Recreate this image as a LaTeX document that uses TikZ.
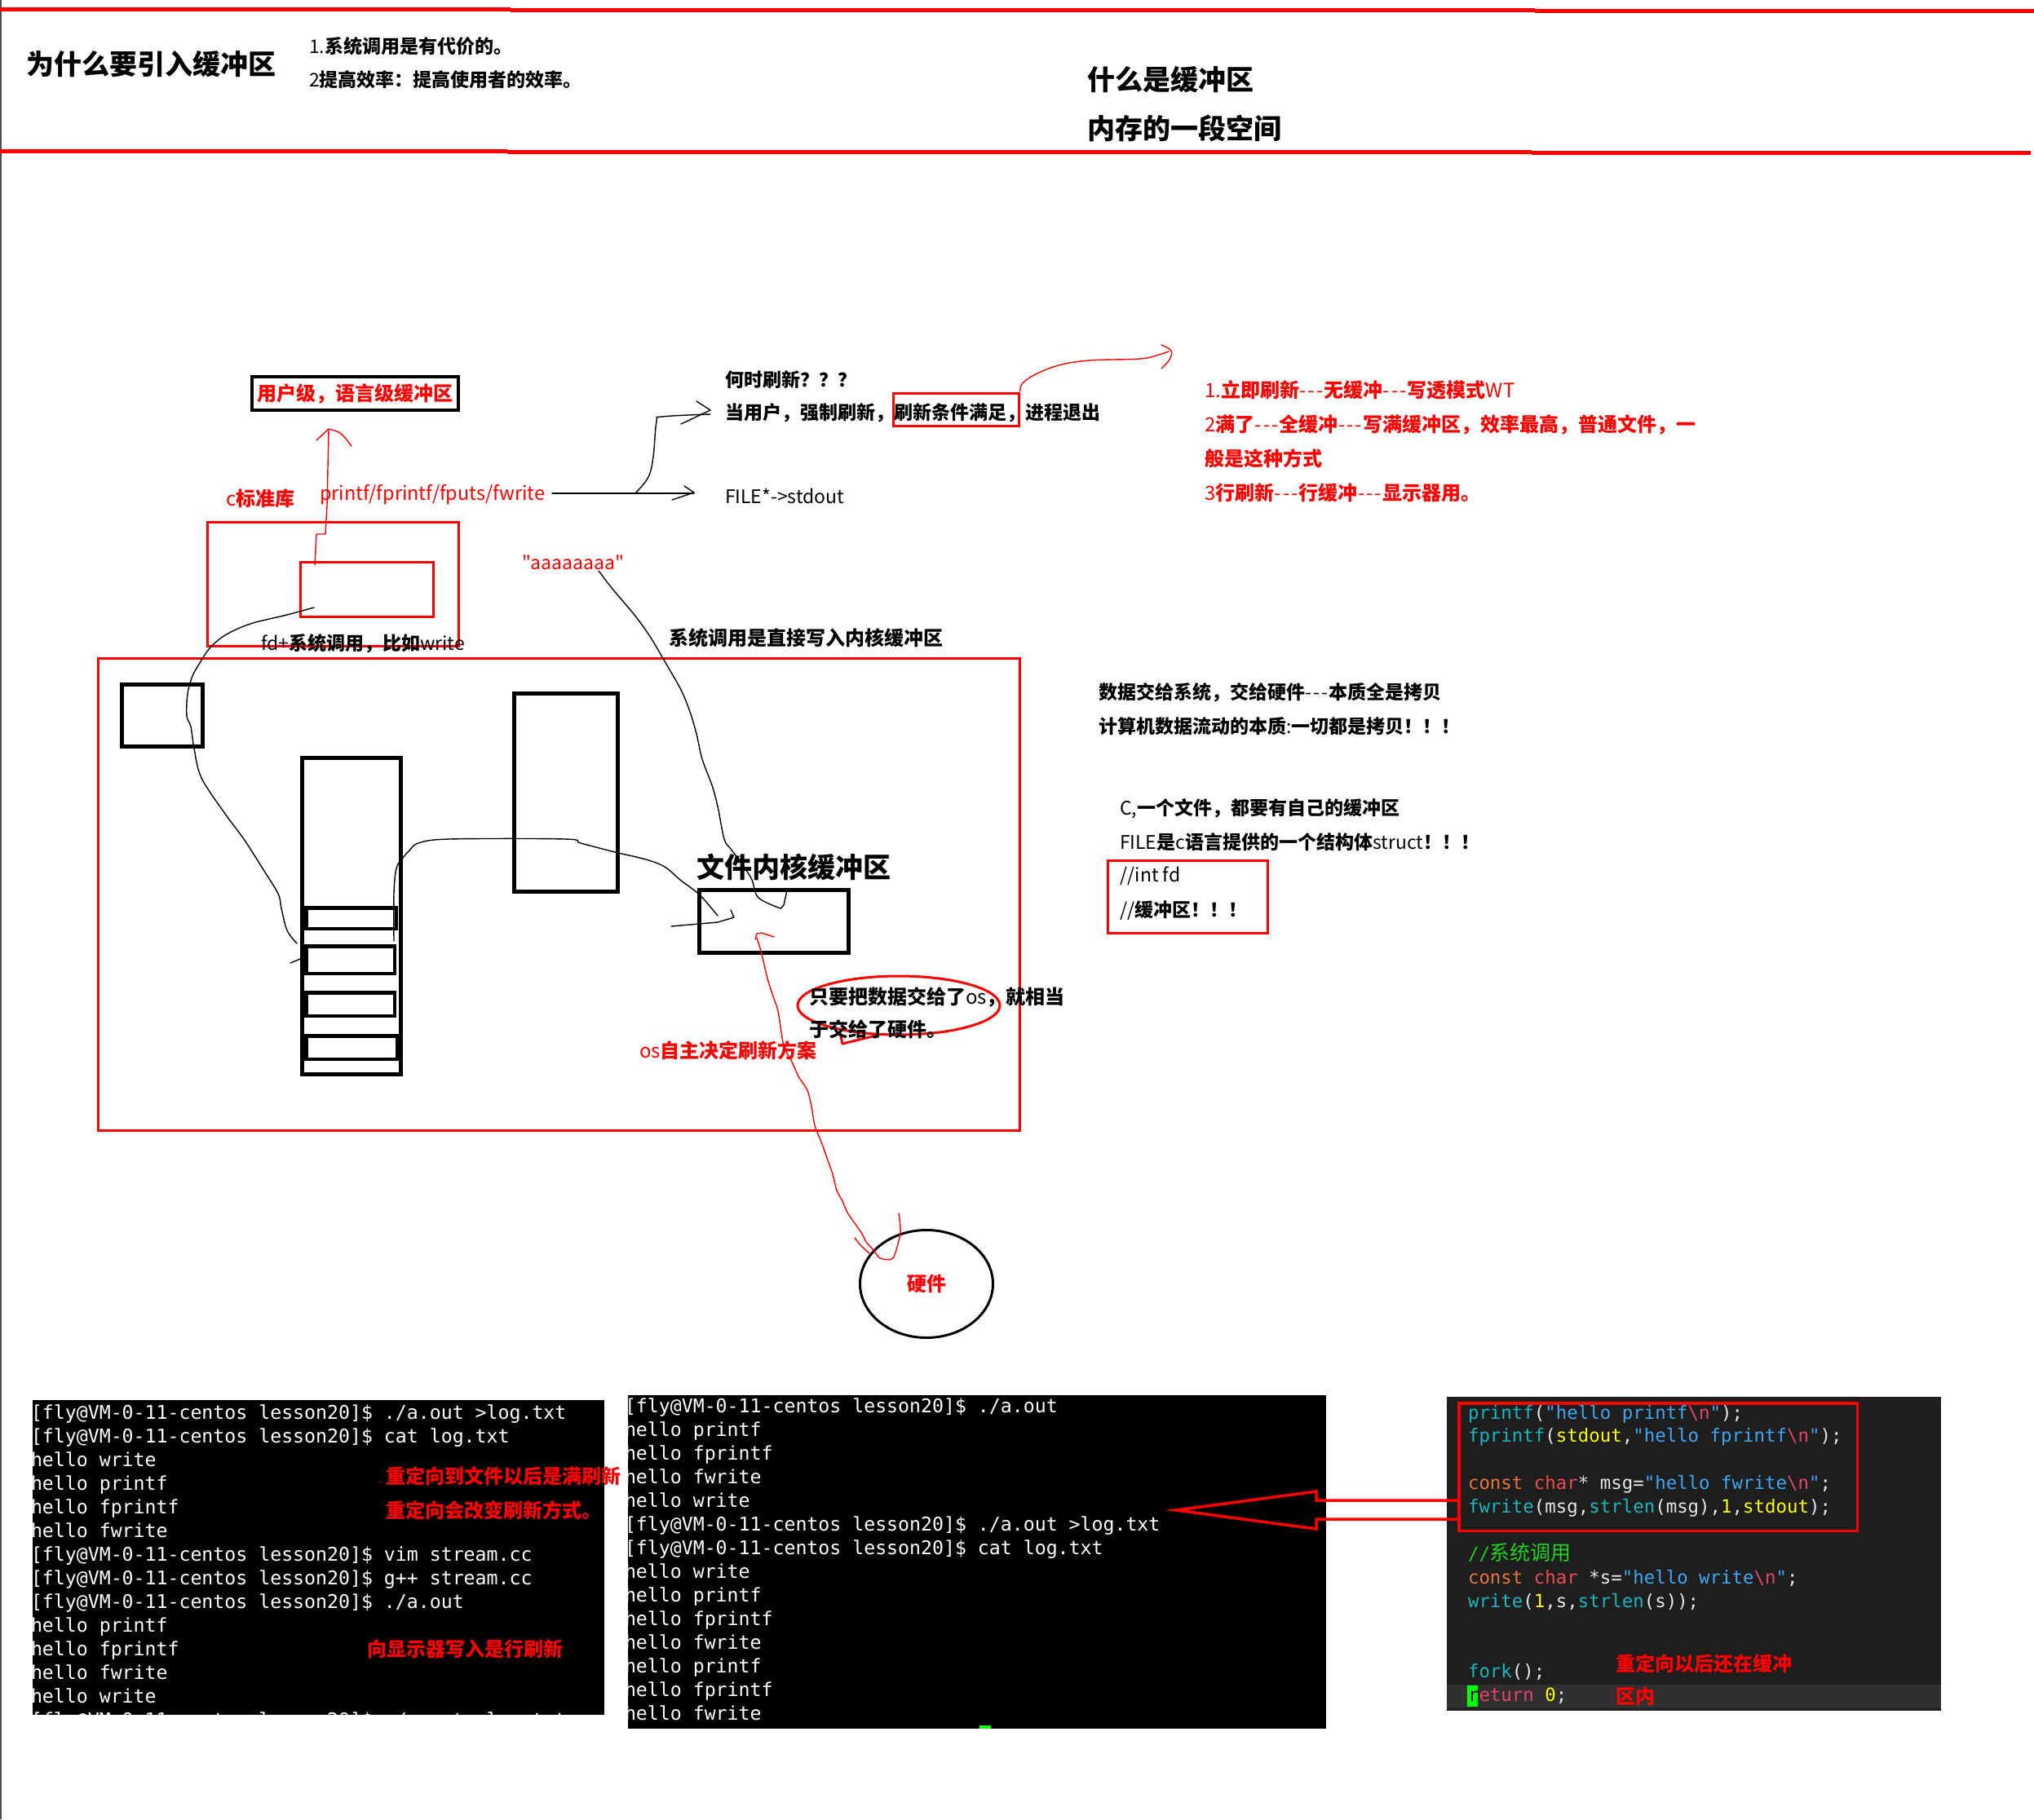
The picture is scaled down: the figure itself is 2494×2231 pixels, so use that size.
\documentclass[tikz,border=0pt]{standalone}
\usepackage{fontspec}
\usetikzlibrary{shapes.geometric}
\newfontfamily\cjk{Noto Sans CJK SC}
\newfontfamily\monof{DejaVu Sans Mono}
\newcommand\fsz[1]{\fontsize{#1}{#1}\selectfont}
\newcommand\rgl[1]{{\mdseries #1}}
\newcommand\dsh{{\mdseries\kern0.5pt-\kern2pt-\kern2pt-\kern1pt}}
\definecolor{rd}{HTML}{FF0000}
\definecolor{codebg}{HTML}{1E1E1E}
\definecolor{codeband}{HTML}{303030}
\definecolor{cfn}{HTML}{19B6BE}
\definecolor{cstr}{HTML}{3FA6F2}
\definecolor{cesc}{HTML}{E2466A}
\definecolor{ckw}{HTML}{E5763F}
\definecolor{cty}{HTML}{F04B4B}
\definecolor{cyl}{HTML}{FFFF00}
\definecolor{cwh}{HTML}{E6E6E6}
\definecolor{ccm}{HTML}{1ED41E}
\definecolor{cret}{HTML}{E8446C}
\definecolor{cur}{HTML}{00FF00}
\newcommand\kfn[1]{\textcolor{cfn}{#1}}
\newcommand\kstr[1]{\textcolor{cstr}{#1}}
\newcommand\kesc[1]{\textcolor{cesc}{#1}}
\newcommand\kkw[1]{\textcolor{ckw}{#1}}
\newcommand\kty[1]{\textcolor{cty}{#1}}
\newcommand\kyl[1]{\textcolor{cyl}{#1}}
\newcommand\kcm[1]{\textcolor{ccm}{#1}}
\newcommand\kret[1]{\textcolor{cret}{#1}}
\tikzset{
  txt/.style={anchor=base west, inner sep=0pt, outer sep=0pt},
  hb/.style={txt, font=\cjk\fsz{34}\bfseries},
  nb/.style={txt, font=\cjk\fsz{23}\bfseries},
  nb24/.style={txt, font=\cjk\fsz{24}\bfseries},
  nbr/.style={txt, font=\cjk\fsz{24}\bfseries, text=rd},
  nr/.style={txt, font=\cjk\fsz{23}},
  tl/.style={txt, font=\monof\fsz{23.2}, text=white},
  cl/.style={txt, font=\monof\fsz{22.4}, text=cwh},
  hand/.style={line width=1.4pt, line cap=round, line join=round},
  blkbox/.style={draw=black, line width=5pt, inner sep=0pt, outer sep=0pt},
  redbox/.style={draw=rd, line width=3pt, inner sep=0pt, outer sep=0pt},
}
\begin{document}
\begin{tikzpicture}[x=1pt,y=-1pt]
\useasboundingbox (0,0) rectangle (2494,2231);
\fill[white] (0,0) rectangle (2494,2231);
\draw[gray!60!black, line width=2.4pt] (1.2,0) -- (1.2,2231);

% header rules
\draw[rd, line width=5pt] (0,11.5) -- (626,11.5);
\draw[rd, line width=5pt] (626,12.5) -- (1882,12.5);
\draw[rd, line width=5pt] (1882,13.5) -- (2494,13.5);
\draw[rd, line width=5pt] (0,185) -- (622,185);
\draw[rd, line width=5pt] (622,186) -- (1878,186);
\draw[rd, line width=5pt] (1878,187.5) -- (2490,187.5);

% header texts
\node[hb] (h1) at (32,91) {为什么要引入缓冲区};
\node[nb] (h2) at (379,65) {\rgl{1.}系统调用是有代价的。};
\node[nb] (h3) at (379,106) {\rgl{2}提高效率：提高使用者的效率。};
\node[hb] (h4) at (1333,110) {什么是缓冲区};
\node[hb] (h5) at (1333,170) {内存的一段空间};

% user-level buffer box
\node[draw=black, line width=4pt, minimum width=253pt, minimum height=41pt, inner sep=0pt,
      font=\cjk\fsz{24}\bfseries, text=rd] (ub) at (435.5,482.5) {用户级，语言级缓冲区};
\node[nbr] (clib) at (277,620) {\rgl{c}标准库};
\node[txt, font=\cjk\fsz{23.5}, text=rd] (pf) at (392,613) {printf/fprintf/fputs/fwrite};
\node[nb] (when) at (889,474) {何时刷新？？？};
\node[nb] (cond) at (889,514) {当用户，强制刷新，刷新条件满足，进程退出};
\node[redbox, minimum width=154pt, minimum height=40pt] (cb) at (1172.5,502.5) {};
\node[nr] (file) at (889,617) {FILE*->stdout};

% flush modes
\node[nbr] (m1) at (1477,487) {\rgl{1.}立即刷新\dsh 无缓冲\dsh 写透模式\rgl{WT}};
\node[nbr] (m2) at (1477,529) {\rgl{2}满了\dsh 全缓冲\dsh 写满缓冲区，效率最高，普通文件，一};
\node[nbr] (m3) at (1477,571) {般是这种方式};
\node[nbr] (m4) at (1477,613) {\rgl{3}行刷新\dsh 行缓冲\dsh 显示器用。};

% c library boxes
\node[redbox, minimum width=308pt, minimum height=152pt] (cout) at (408.5,716.5) {};
\node[redbox, minimum width=163pt, minimum height=67pt] (cin) at (450,723) {};
\node[nb] (fds) at (320,797) {\rgl{fd+}系统调用，比如\rgl{write}};
\node[txt, font=\cjk\fsz{23}, text=rd] (aaa) at (640,698) {"aaaaaaaa"};
\node[nb24] (sysd) at (820,791) {系统调用是直接写入内核缓冲区};

% kernel area
\node[redbox, minimum width=1130pt, minimum height=579pt] (big) at (685.5,1097) {};
\node[blkbox, minimum width=99pt, minimum height=76pt] (sq) at (199,877.5) {};
\node[blkbox, minimum width=121pt, minimum height=388pt] (tall) at (431,1123.5) {};
\node[blkbox, line width=4.5pt, minimum width=110.5pt, minimum height=25.5pt] (s1) at (430.5,1126) {};
\node[blkbox, line width=4.5pt, minimum width=108.5pt, minimum height=33.5pt] (s2) at (429.5,1177) {};
\node[blkbox, line width=4.5pt, minimum width=108.5pt, minimum height=28.5pt] (s3) at (429.5,1231.5) {};
\node[blkbox, line width=4.5pt, minimum width=111.5pt, minimum height=28.5pt] (s4) at (431,1284.5) {};
\node[blkbox, minimum width=127pt, minimum height=243pt] (tall2) at (694,972) {};
\node[blkbox, minimum width=183pt, minimum height=77pt] (kb) at (949,1130) {};
\node[hb] (kbl) at (854,1076) {文件内核缓冲区};

% speech bubble
\draw[rd, line width=3pt] (1102,1233) ellipse [x radius=124, y radius=36];
\draw[rd, line width=3pt, line join=round] (1030,1267) -- (1033,1280) -- (1078,1269);
\node[nb24] (bb1) at (992,1231) {只要把数据交给了\rgl{os}，就相当};
\node[nb24] (bb2) at (992,1271) {于交给了硬件。};
\node[nbr] (osd) at (784,1297) {\rgl{os}自主决定刷新方案};

% hardware
\node[ellipse, draw=black, line width=3pt, minimum width=163pt, minimum height=132pt, inner sep=0pt,
      font=\cjk\fsz{24}\bfseries, text=rd] (hw) at (1136,1574.5) {硬件};

% right notes
\node[nb] (r1) at (1347,857) {数据交给系统，交给硬件\dsh 本质全是拷贝};
\node[nb] (r2) at (1347,899) {计算机数据流动的本质\rgl{:}一切都是拷贝！！！};
\node[nb] (r3) at (1373,999) {\rgl{C,}一个文件，都要有自己的缓冲区};
\node[nb] (r4) at (1373,1041) {\rgl{FILE}是\rgl{c}语言提供的一个结构体\rgl{struct}！！！};
\node[nr] (r5) at (1373,1081) {//int fd};
\node[nb] (r6) at (1373,1124) {\rgl{//}缓冲区！！！};
\node[redbox, minimum width=196pt, minimum height=89pt] (rb) at (1456.5,1100) {};

% ---------- hand-drawn connectors ----------
% c lib -> user buffer (red)
\draw[rd, hand] (386,693) -- (388,655) -- (399,655) -- (401,620) -- (403,527);
\draw[rd, hand] (388,540) -- (403,526) .. controls (418,530) .. (431,547);
% printf -> FILE*->stdout
\draw[black, hand] (677,605) -- (851,605);
\draw[black, hand] (839,596) -- (851,604) -- (824,613);
\draw[black, hand] plot[smooth, tension=0.6] coordinates {(779,605) (795,585) (801,560) (805,517) (812,511) (871,508)};
\draw[black, hand] (854,492) -- (871,503) -- (835,520);
% flush condition -> modes (red)
\draw[rd, hand] plot[smooth, tension=0.6] coordinates {(1251,480) (1253,471) (1268,460) (1298,448) (1336,442) (1398,440) (1421,435) (1433,431)};
\draw[rd, hand] plot[smooth, tension=0.6] coordinates {(1424,423) (1436,430) (1434,441) (1424,452)};
% user buffer -> file (black)
\draw[black, hand] plot[smooth, tension=0.55] coordinates {(385,745) (352,754) (307,765) (276,779) (257,795) (245,813) (236,829) (230,851) (229,878) (234,891) (238,918) (247,954) (276,998) (299,1029) (322,1065) (341,1096) (345,1114) (352,1141) (364,1157)};
\draw[black, hand] (356,1181) -- (368,1176);
% file -> kernel buffer (black)
\draw[black, hand] plot[smooth, tension=0.55] coordinates {(483,1154) (483,1096) (486,1065) (494,1052) (502,1043) (513,1034) (551,1029) (693,1029) (712,1034) (754,1045) (792,1054) (815,1063) (834,1079) (854,1094) (865,1105) (880,1123)};
\draw[black, hand] (896,1116) -- (900,1125) -- (880,1131) -- (857,1133) -- (823,1136);
% "aaaaaaaa" -> kernel buffer (black)
\draw[black, hand] plot[smooth, tension=0.55] coordinates {(734,700) (750,721) (777,753) (796,779) (815,811) (835,846) (846,873) (854,900) (861,931) (873,963) (880,989) (888,1029) (896,1041) (911,1061) (922,1079) (930,1101) (957,1114)};
\draw[black, hand] (965,1092) -- (961,1110) -- (957,1114);
% kernel buffer -> hardware (red)
\draw[rd, hand] (926,1152) -- (928,1145) -- (934,1144) -- (949,1149);
\draw[rd, hand] plot[smooth, tension=0.4] coordinates {(928,1150) (934,1170) (941,1200) (948,1222) (954,1240) (961,1283) (970,1300) (979,1320) (990,1337) (995,1357) (999,1380) (1008,1403) (1015,1423) (1021,1440) (1026,1460) (1033,1473) (1039,1487) (1048,1500) (1057,1513) (1062,1523) (1071,1533) (1079,1543) (1095,1543) (1104,1512) (1102,1488)};
\draw[rd, hand] (1048,1518) -- (1055,1527) -- (1066,1537);

% ---------- terminal 1 ----------
\fill[black] (40,1717) rectangle (741,2103);
\begin{scope}
\clip (40,1717) rectangle (741,2103);
\foreach \ln [count=\i] in {
  {[fly@VM-0-11-centos lesson20]\$ ./a.out >log.txt},
  {[fly@VM-0-11-centos lesson20]\$ cat log.txt},
  {hello write},{hello printf},{hello fprintf},{hello fwrite},
  {[fly@VM-0-11-centos lesson20]\$ vim stream.cc},
  {[fly@VM-0-11-centos lesson20]\$ g++ stream.cc},
  {[fly@VM-0-11-centos lesson20]\$ ./a.out},
  {hello printf},{hello fprintf},{hello fwrite},{hello write},
  {[fly@VM-0-11-centos lesson20]\$ ./a.out >log.txt}}
  \node[tl] (ta\i) at (38,{1740+29*(\i-1)}) {\ln};
\end{scope}
\node[nbr] (n1) at (473,1819) {重定向到文件以后是满刷新};
\node[nbr] (n2) at (473,1861) {重定向会改变刷新方式。};
\node[nbr] (n3) at (450,2031) {向显示器写入是行刷新};

% ---------- terminal 2 ----------
\fill[black] (770,1711) rectangle (1626,2120);
\begin{scope}
\clip (770,1711) rectangle (1626,2120);
\foreach \ln [count=\i] in {
  {[fly@VM-0-11-centos lesson20]\$ ./a.out},
  {hello printf},{hello fprintf},{hello fwrite},{hello write},
  {[fly@VM-0-11-centos lesson20]\$ ./a.out >log.txt},
  {[fly@VM-0-11-centos lesson20]\$ cat log.txt},
  {hello write},{hello printf},{hello fprintf},{hello fwrite},
  {hello printf},{hello fprintf},{hello fwrite}}
  \node[tl] (tb\i) at (766,{1732+29.07*(\i-1)}) {\ln};
\end{scope}
\fill[cur] (1201,2116) rectangle (1215,2120);

% ---------- code ----------
\fill[codebg] (1774,1713) rectangle (2380,2098);
\fill[codeband] (1774,2066) rectangle (2380,2095);
\fill[cur] (1799,2067) rectangle (1812,2093);
\node[cl] (c1) at (1800,1740) {\kfn{printf}(\kstr{"hello printf}\kesc{\textbackslash n}\kstr{"});};
\node[cl] (c2) at (1800,1768.9) {\kfn{fprintf}(\kyl{stdout},\kstr{"hello fprintf}\kesc{\textbackslash n}\kstr{"});};
\node[cl] (c4) at (1800,1826.7) {\kkw{const} \kty{char}* msg=\kstr{"hello fwrite}\kesc{\textbackslash n}\kstr{"};};
\node[cl] (c5) at (1800,1855.6) {\kfn{fwrite}(msg,\kfn{strlen}(msg),\kyl{1},\kyl{stdout});};
\node[cl] (c7) at (1800,1913.4) {\kcm{//{\cjk\fsz{25}系统调用}}};
\node[cl] (c8) at (1800,1942.3) {\kkw{const} \kty{char} *s=\kstr{"hello write}\kesc{\textbackslash n}\kstr{"};};
\node[cl] (c9) at (1800,1971.2) {\kfn{write}(\kyl{1},s,\kfn{strlen}(s));};
\node[cl] (c12) at (1800,2057.9) {\kfn{fork}();};
\node[cl] (c13) at (1800,2086.8) {\textcolor{black}{r}\kret{eturn} \kyl{0};};
\node[draw=rd, line width=3.5pt, minimum width=488.5pt, minimum height=156.5pt, inner sep=0pt] (codebox) at (2033,1799) {};
\node[nbr] (n4) at (1981,2049) {重定向以后还在缓冲};
\node[nbr] (n5) at (1981,2089) {区内};

% hollow arrow from code to terminal 2
\draw[rd, line width=3.5pt, line join=miter] (codebox.west |- 0,1840) -- (1614,1840) -- (1614,1829) -- (1442,1852) -- (1614,1875) -- (1614,1863) -- (codebox.west |- 0,1863);
\end{tikzpicture}
\end{document}
